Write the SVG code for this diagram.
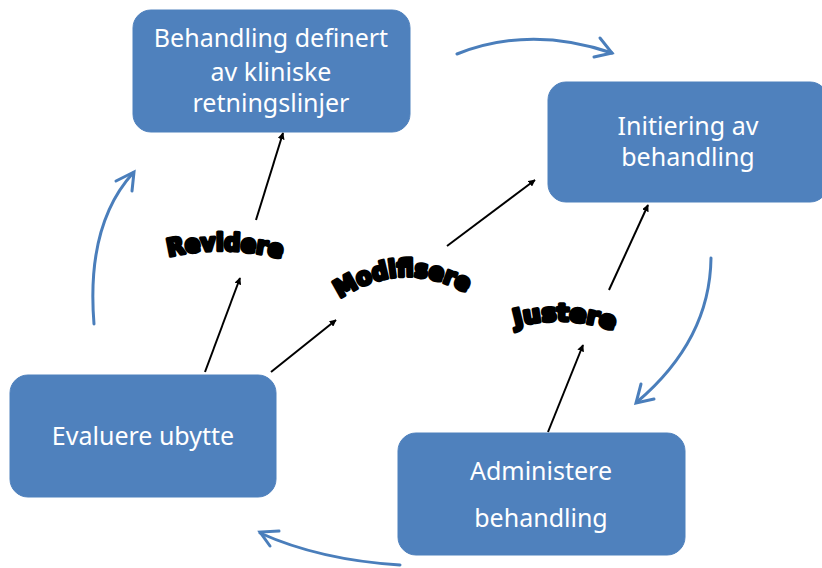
<svg xmlns="http://www.w3.org/2000/svg" width="822" height="568" viewBox="0 0 822 568">
<style>
.box{fill:#4f81bd;stroke:#4f81bd}
.lbl{font-family:"Noto Sans","Liberation Sans",sans-serif;font-size:25px;fill:#fff;text-anchor:middle}
.wa{font-family:"DejaVu Sans",sans-serif;font-weight:bold;fill:#000;stroke:#000;stroke-width:3.5;stroke-linejoin:round;font-size:24px}
.blk{stroke:#000;stroke-width:2;fill:none;marker-end:url(#ah)}
.blu{stroke:#4a7ebb;stroke-width:3;fill:none;stroke-linecap:round}
.head{stroke:#4a7ebb;stroke-width:3;fill:none;stroke-linecap:round;stroke-linejoin:miter}
</style>
<defs>
<marker id="ah" viewBox="0 0 10 10" refX="9" refY="5" markerWidth="7" markerHeight="7" orient="auto" markerUnits="userSpaceOnUse">
<path d="M0,0 L10,5 L0,10 z" fill="#000"/>
</marker>
<path id="p1" d="M163,258 Q224,242 287,260"/>
<path id="p2" d="M336,301 Q402,255 470,295"/>
<path id="p3" d="M511,328 Q564,312 618,332"/>
</defs>
<g id="node-behandling">
<rect class="box" x="133" y="10" width="277" height="122" rx="18"/>
<text class="lbl" x="271" y="47">Behandling definert</text>
<text class="lbl" x="271" y="81">av kliniske</text>
<text class="lbl" x="271" y="112">retningslinjer</text>
</g>
<g id="node-initiering">
<rect class="box" x="548" y="82" width="280" height="120" rx="18"/>
<text class="lbl" x="688" y="135">Initiering av</text>
<text class="lbl" x="688" y="166">behandling</text>
</g>
<g id="node-administere">
<rect class="box" x="398" y="433" width="287" height="122" rx="18"/>
<text class="lbl" x="541" y="480">Administere</text>
<text class="lbl" x="541" y="527">behandling</text>
</g>
<g id="node-evaluere">
<rect class="box" x="10" y="375" width="266" height="122" rx="18"/>
<text class="lbl" x="143" y="445">Evaluere ubytte</text>
</g>
<g id="connectors">
<line class="blk" x1="256" y1="220" x2="283" y2="133"/>
<line class="blk" x1="205" y1="372" x2="240" y2="278"/>
<line class="blk" x1="271" y1="372" x2="336" y2="320"/>
<line class="blk" x1="447" y1="246" x2="535" y2="180"/>
<line class="blk" x1="609" y1="290" x2="648" y2="205"/>
<line class="blk" x1="548" y1="432" x2="583" y2="345"/>
<path class="blu" d="M457,54 Q530,25 612,53"/>
<path class="head" d="M600,38 L612,53 L594,57"/>
<path class="blu" d="M711,258 Q710,340 637,402"/>
<path class="head" d="M641,384 L636,403 L654,399"/>
<path class="blu" d="M400,565 Q320,560 260,533"/>
<path class="head" d="M279,531 L260,532 L270,546"/>
<path class="blu" d="M94,324 Q86,225 133,173"/>
<path class="head" d="M116,181 L134,172 L132,191"/>
</g>
<g id="labels">
<text class="wa"><textPath href="#p1" startOffset="50%" text-anchor="middle" textLength="114" lengthAdjust="spacingAndGlyphs">Revidere</textPath></text>
<text class="wa"><textPath href="#p2" startOffset="50%" text-anchor="middle" textLength="134" lengthAdjust="spacingAndGlyphs">Modifisere</textPath></text>
<text class="wa"><textPath href="#p3" startOffset="50%" text-anchor="middle" textLength="100" lengthAdjust="spacingAndGlyphs">Justere</textPath></text>
</g>
</svg>
